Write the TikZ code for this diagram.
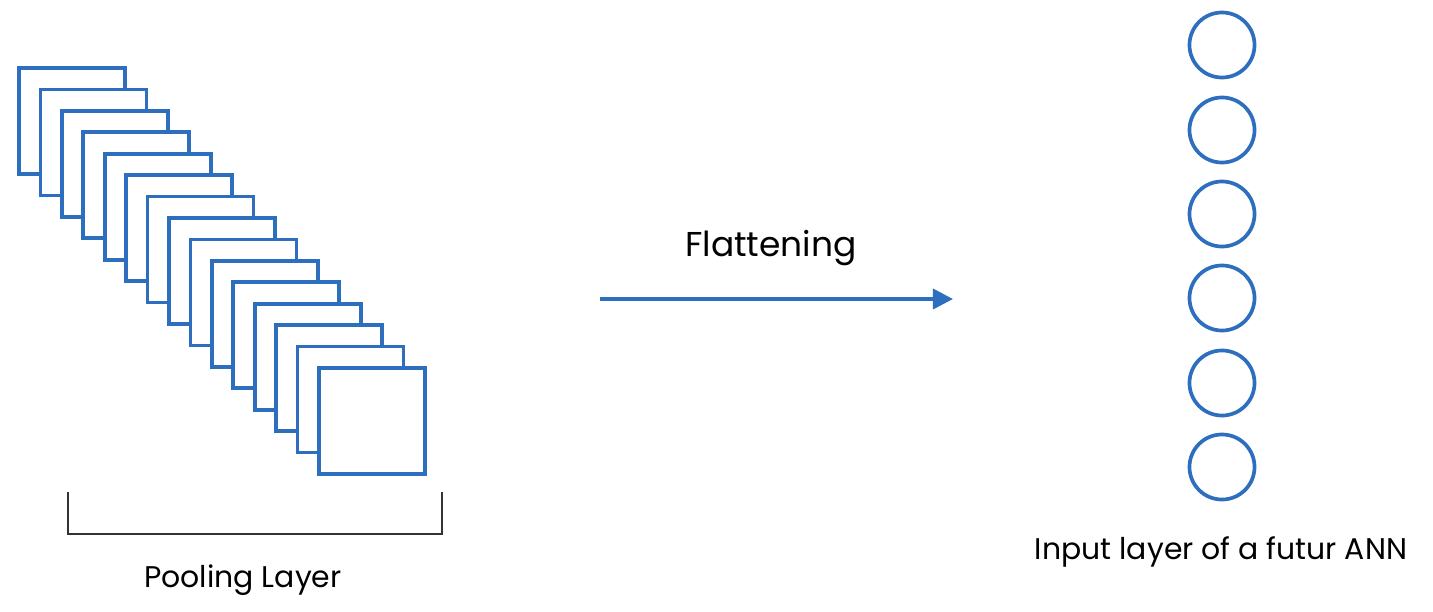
\documentclass[tikz,border=0pt]{standalone}
\usepackage{fontspec}
\setmainfont{Poppins}
\usetikzlibrary{arrows.meta}
\definecolor{mapblue}{RGB}{46,110,190}

\begin{document}
\begin{tikzpicture}[x=0.01cm, y=-0.01cm, >=Triangle,
  font=\fontsize{8.5}{10}\selectfont,
  fmap/.style={draw=mapblue, fill=white, line width=1.05pt, minimum size=1.06cm, inner sep=0pt},
  neuron/.style={circle, draw=mapblue, line width=1.05pt, minimum size=0.65cm, inner sep=0pt},
  bracket/.style={draw=black!80, line width=0.8pt}]
\useasboundingbox (0,0) rectangle (1433,612);
% --- pooling layer: stack of feature maps, back to front ---
\foreach \i in {0,...,14}
  \node[fmap] (map\i) at ({72+21.43*\i},{121+21.43*\i}) {};
% bracket under the stack
\coordinate (brL) at (68,492);
\coordinate (brR) at (442,492);
\draw[bracket] (brL) -- ++(0,42) -| (brR);
\node (poollbl) at (243,580) {Pooling Layer};
% --- flattening arrow ---
\coordinate (flatS) at (600,299);
\coordinate (flatE) at (953,299);
\draw[->, mapblue, line width=1pt, arrows={-Triangle[length=0.2cm, width=0.2cm]}] (flatS) -- (flatE);
\node[font=\fontsize{9.8}{12}\selectfont] (flatlbl) at (771,248) {Flattening};
% --- input layer of the ANN ---
\foreach \y [count=\k] in {45,130,214,298,383,467}
  \node[neuron] (in\k) at (1222,\y) {};
\node (annlbl) at (1221,552) {Input layer of a futur ANN};
\end{tikzpicture}
\end{document}
